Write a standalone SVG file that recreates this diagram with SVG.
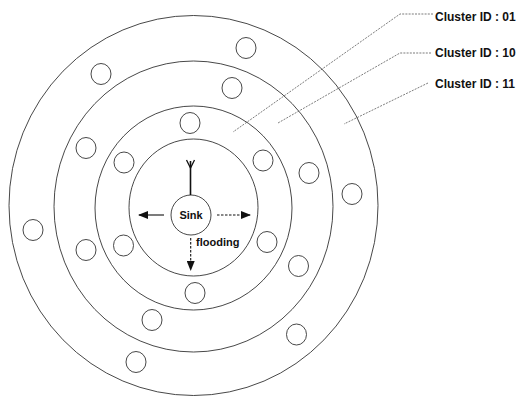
<svg xmlns="http://www.w3.org/2000/svg" width="520" height="398" viewBox="0 0 520 398">
<defs>
<style>
.ring{fill:none;stroke:#333;stroke-width:0.9}
.node{fill:#fff;stroke:#333;stroke-width:0.9}
.lbl{font-family:"Liberation Sans",Arial,sans-serif;font-weight:bold;fill:#111}
.lead{fill:none;stroke:#444;stroke-width:0.7;stroke-dasharray:2 1.2}
.arr{stroke:#111;stroke-width:1.1;fill:none}
.dash{stroke-dasharray:2.5 1.5}
</style>
<marker id="ah" viewBox="0 0 10 8" refX="9" refY="4" markerWidth="10" markerHeight="8" markerUnits="userSpaceOnUse" orient="auto">
<path d="M0,0 L10,4 L0,8 Z" fill="#111"/>
</marker>
</defs>
<rect width="520" height="398" fill="#fff"/>
<g id="rings">
<ellipse id="ring-outer" class="ring" cx="193.5" cy="205.5" rx="184.5" ry="190"/>
<ellipse id="ring-11" class="ring" cx="193.5" cy="206.5" rx="139.5" ry="145.5"/>
<ellipse id="ring-10" class="ring" cx="193.5" cy="208" rx="98.5" ry="102"/>
<ellipse id="ring-01" class="ring" cx="193.5" cy="207.5" rx="64.5" ry="68.5"/>
</g>
<g id="nodes">
<g id="n1"><ellipse class="node" cx="246" cy="48" rx="10" ry="10.5"/></g>
<g id="n2"><ellipse class="node" cx="101" cy="74" rx="10" ry="10.5"/></g>
<g id="n3"><ellipse class="node" cx="232" cy="88" rx="10" ry="10.5"/></g>
<g id="n4"><ellipse class="node" cx="190" cy="123" rx="10" ry="10.5"/></g>
<g id="n5"><ellipse class="node" cx="86" cy="148" rx="10" ry="10.5"/></g>
<g id="n6"><ellipse class="node" cx="124" cy="162.5" rx="10" ry="10.5"/></g>
<g id="n7"><ellipse class="node" cx="263" cy="160.5" rx="10" ry="10.5"/></g>
<g id="n8"><ellipse class="node" cx="309" cy="173" rx="10" ry="10.5"/></g>
<g id="n9"><ellipse class="node" cx="352" cy="194" rx="10" ry="10.5"/></g>
<g id="n10"><ellipse class="node" cx="33" cy="230" rx="10" ry="10.5"/></g>
<g id="n11"><ellipse class="node" cx="123.5" cy="245.5" rx="10" ry="10.5"/></g>
<g id="n12"><ellipse class="node" cx="86" cy="250" rx="10" ry="10.5"/></g>
<g id="n13"><ellipse class="node" cx="267" cy="242" rx="10" ry="10.5"/></g>
<g id="n14"><ellipse class="node" cx="298.5" cy="266" rx="10" ry="10.5"/></g>
<g id="n15"><ellipse class="node" cx="195" cy="293" rx="10" ry="10.5"/></g>
<g id="n16"><ellipse class="node" cx="152" cy="320" rx="10" ry="10.5"/></g>
<g id="n17"><ellipse class="node" cx="296.5" cy="334.5" rx="10" ry="10.5"/></g>
<g id="n18"><ellipse class="node" cx="136" cy="362" rx="10" ry="10.5"/></g>
</g>
<g id="sink">
<circle class="node" cx="191" cy="215" r="20"/>
<text class="lbl" x="191" y="219" font-size="11" text-anchor="middle">Sink</text>
<line x1="190.5" y1="161" x2="190.5" y2="195" stroke="#111" stroke-width="1.6"/>
<polyline points="186.5,160 190.5,168 194.5,160" fill="none" stroke="#111" stroke-width="1.3"/>
</g>
<g id="connectors">
<line class="arr" x1="164" y1="215" x2="139" y2="215" marker-end="url(#ah)"/>
<line class="arr dash" x1="217" y1="215" x2="250" y2="215" marker-end="url(#ah)"/>
<line class="arr dash" x1="190.7" y1="238" x2="190.7" y2="270" marker-end="url(#ah)"/>
<polyline class="lead" points="433,14 400,14 233,132"/>
<polyline class="lead" points="431,53 400,53 278,123"/>
<polyline class="lead" points="428,83 344,124"/>
</g>
<g id="labels">
<text class="lbl" x="196" y="246" font-size="11">flooding</text>
<text class="lbl" x="435" y="21" font-size="12">Cluster ID : 01</text>
<text class="lbl" x="435" y="57" font-size="12">Cluster ID : 10</text>
<text class="lbl" x="435" y="88" font-size="12">Cluster ID : 11</text>
</g>
</svg>
